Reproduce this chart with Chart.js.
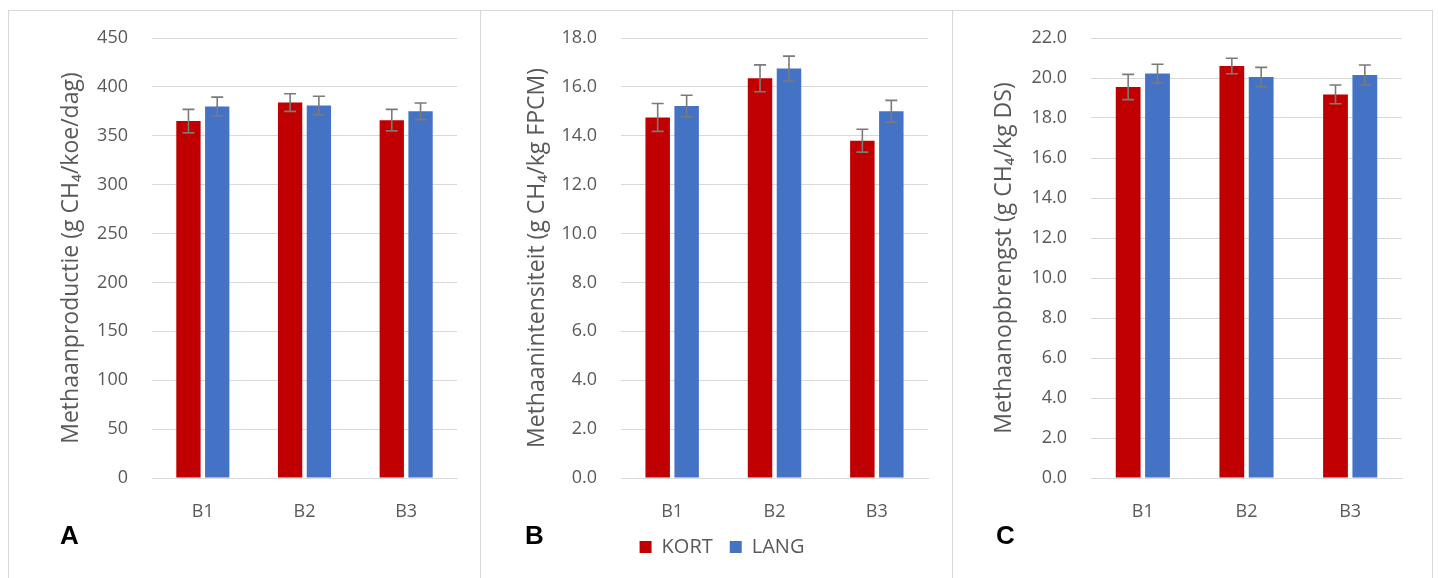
<!DOCTYPE html>
<html>
<head>
<meta charset="utf-8">
<script src="https://cdn.jsdelivr.net/npm/chart.js@4/dist/chart.umd.min.js"></script>
<style>
  html, body { margin: 0; padding: 0; background: #ffffff; }
  body { width: 1438px; height: 578px; position: relative; overflow: hidden; }
  .frame { position: absolute; top: 10px; height: 580px; border-top: 1px solid #d9d9d9; border-left: 1px solid #d9d9d9; box-sizing: border-box; }
  .frame.last { border-right: 1px solid #d9d9d9; }
  canvas { position: absolute; top: 10px; }
  .letter { position: absolute; font-family: 'Liberation Sans', Arial, sans-serif; font-weight: bold; font-size: 26px; line-height: 26px; color: #000; }
</style>
</head>
<body>
<div class="frame" style="left:8px;width:472px"></div>
<div class="frame" style="left:480px;width:472px"></div>
<div class="frame last" style="left:952px;width:481px"></div>
<canvas id="chartA" width="472" height="568" style="left:8px"></canvas>
<canvas id="chartB" width="472" height="568" style="left:480px"></canvas>
<canvas id="chartC" width="480" height="568" style="left:952px"></canvas>
<div class="letter" style="left:60px;top:522px">A</div>
<div class="letter" style="left:525px;top:522px">B</div>
<div class="letter" style="left:996px;top:522px">C</div>
<script>
// Periods and treatments
const periods = ['B1', 'B2', 'B3'];
const seriesNames = ['KORT', 'LANG'];

// A: methane production (g CH4/cow/day), means and error margins
const prodKort = [365, 384, 366];
const prodKortErr = [12, 9, 11];
const prodLang = [380, 381, 375];
const prodLangErr = [9.5, 9.5, 8.5];

// B: methane intensity (g CH4/kg FPCM)
const intKort = [14.75, 16.35, 13.8];
const intKortErr = [0.57, 0.55, 0.47];
const intLang = [15.22, 16.75, 15.0];
const intLangErr = [0.44, 0.51, 0.45];

// C: methane yield (g CH4/kg DS)
const yieldKort = [19.55, 20.6, 19.18];
const yieldKortErr = [0.63, 0.39, 0.47];
const yieldLang = [20.22, 20.05, 20.15];
const yieldLangErr = [0.47, 0.48, 0.5];

const RED = '#c00000';
const BLUE = '#4472c4';
const TEXT = '#595959';
const GRID = '#d9d9d9';
const FONT = "'Open Sans', 'Noto Sans', sans-serif";

// Draws whisker-style error bars on top of each bar using the y scale
const errorBars = {
  id: 'errorBars',
  afterDatasetsDraw(chart) {
    const ctx = chart.ctx;
    const yScale = chart.scales.y;
    ctx.save();
    ctx.strokeStyle = '#7a7a7a';
    ctx.lineWidth = 1.6;
    chart.data.datasets.forEach((ds, di) => {
      const meta = chart.getDatasetMeta(di);
      meta.data.forEach((bar, i) => {
        const v = ds.data[i];
        const e = ds.errors[i];
        const yTop = yScale.getPixelForValue(v + e);
        const yBot = yScale.getPixelForValue(v - e);
        const x = bar.x;
        const cap = 6;
        ctx.beginPath();
        ctx.moveTo(x, yTop); ctx.lineTo(x, yBot);
        ctx.moveTo(x - cap, yTop); ctx.lineTo(x + cap, yTop);
        ctx.moveTo(x - cap, yBot); ctx.lineTo(x + cap, yBot);
        ctx.stroke();
      });
    });
    ctx.restore();
  }
};

function makePanel(id, cfg) {
  const datasets = [
    { label: seriesNames[0], data: cfg.kort, errors: cfg.kortErr, backgroundColor: RED },
    { label: seriesNames[1], data: cfg.lang, errors: cfg.langErr, backgroundColor: BLUE }
  ];
  return new Chart(document.getElementById(id), {
    type: 'bar',
    data: { labels: periods, datasets },
    plugins: [errorBars],
    options: {
      responsive: false,
      animation: false,
      datasets: { bar: { categoryPercentage: 0.566, barPercentage: 0.845 } },
      layout: { padding: { left: cfg.padLeft, top: 28, right: cfg.padRight, bottom: cfg.legend ? 11 : 58 } },
      plugins: {
        tooltip: { enabled: false },
        legend: {
          display: cfg.legend,
          position: 'bottom',
          labels: { boxWidth: 12, boxHeight: 12, padding: 17, color: TEXT, font: { family: FONT, size: 20 } }
        }
      },
      scales: {
        x: {
          grid: { display: false, drawTicks: false },
          border: { display: true, color: GRID },
          ticks: { color: TEXT, padding: 23, font: { family: FONT, size: 18 } },
          afterFit: s => { s.height = 42; }
        },
        y: {
          min: 0, max: cfg.max,
          // tick marks stay invisible; their length sets the gap before the labels
          grid: { color: GRID, drawTicks: true, tickLength: 20, tickColor: 'rgba(0,0,0,0)' },
          border: { display: false },
          ticks: {
            stepSize: cfg.step, color: TEXT, padding: 4,
            font: { family: FONT, size: 18 },
            callback: v => v.toFixed(cfg.decimals)
          },
          title: {
            display: true, text: cfg.title, color: TEXT,
            font: { family: FONT, size: 23 },
            padding: { top: cfg.titlePad, bottom: 0 }
          },
          afterFit: s => { s.width = cfg.axisWidth; }
        }
      }
    }
  });
}

makePanel('chartA', {
  kort: prodKort, kortErr: prodKortErr, lang: prodLang, langErr: prodLangErr,
  max: 450, step: 50, decimals: 0, title: 'Methaanproductie (g CH\u2084/koe/dag)',
  padLeft: 0, axisWidth: 144, padRight: 23, titlePad: 50, legend: false
});
makePanel('chartB', {
  kort: intKort, kortErr: intKortErr, lang: intLang, langErr: intLangErr,
  max: 18, step: 2, decimals: 1, title: 'Methaanintensiteit (g CH\u2084/kg FPCM)',
  padLeft: 36, axisWidth: 105, padRight: 24, titlePad: 8, legend: true
});
makePanel('chartC', {
  kort: yieldKort, kortErr: yieldKortErr, lang: yieldLang, langErr: yieldLangErr,
  max: 22, step: 2, decimals: 1, title: 'Methaanopbrengst (g CH\u2084/kg DS)',
  padLeft: 0, axisWidth: 139, padRight: 30, titlePad: 39, legend: false
});
</script>
</body>
</html>
